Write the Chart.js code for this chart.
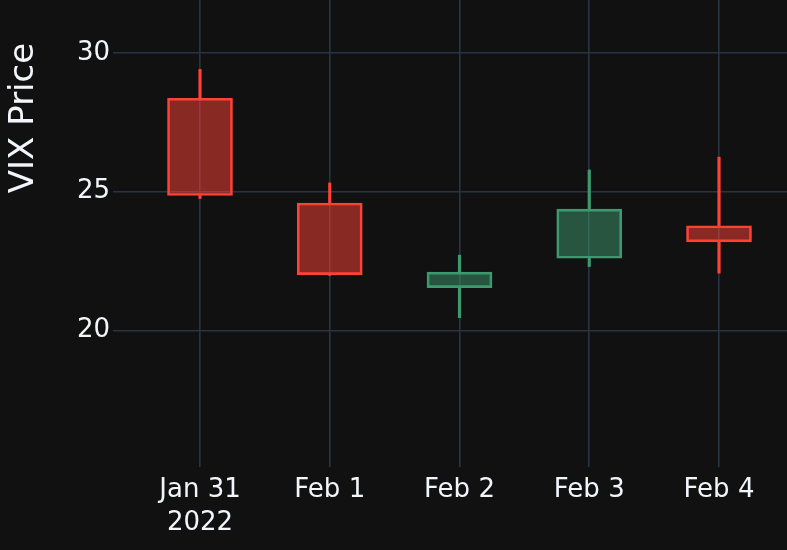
<!DOCTYPE html>
<html>
<head>
<meta charset="utf-8">
<script src="https://cdn.jsdelivr.net/npm/chart.js@4"></script>
<style>
html,body{margin:0;padding:0;background:#111111;}
canvas{display:block;background:#111111;}
</style>
</head>
<body>
<canvas id="c" width="787" height="550"></canvas>
<script>
const dates = ['2022-01-31','2022-02-01','2022-02-02','2022-02-03','2022-02-04'];
const tickLabels = [['Jan 31','2022'],'Feb 1','Feb 2','Feb 3','Feb 4'];
const openVals  = [28.36, 24.59, 21.54, 22.60, 23.77];
const highVals  = [29.40, 25.31, 22.71, 25.78, 26.24];
const lowVals   = [24.75, 21.98, 20.46, 22.30, 22.06];
const closeVals = [24.86, 22.01, 22.10, 24.37, 23.19];
const yTitle = 'VIX Price';

const UP_LINE = '#3D9970', UP_FILL = 'rgba(61,153,112,0.5)';
const DN_LINE = '#FF4136', DN_FILL = 'rgba(255,65,54,0.5)';
const isUp = dates.map((d,i)=>closeVals[i] >= openVals[i]);
const lineCols = isUp.map(u=>u?UP_LINE:DN_LINE);
const fillCols = isUp.map(u=>u?UP_FILL:DN_FILL);

const body = dates.map((d,i)=>({x:i, y:[openVals[i], closeVals[i]]}));
const upperWick = dates.map((d,i)=>({x:i, y:[Math.max(openVals[i],closeVals[i]), highVals[i]]}));
const lowerWick = dates.map((d,i)=>({x:i, y:[lowVals[i], Math.min(openVals[i],closeVals[i])]}));

const FONT = 'DejaVu Sans';
const TXT = '#f2f5fa';
const GRID = '#283442';

const titlePlugin = {
  id:'ytitle',
  afterDraw(chart){
    const ctx = chart.ctx;
    ctx.save();
    ctx.translate(33, 118);
    ctx.rotate(-Math.PI/2);
    ctx.font = '34px "' + FONT + '"';
    ctx.fillStyle = TXT;
    ctx.textAlign = 'center';
    ctx.textBaseline = 'alphabetic';
    ctx.fillText(yTitle, 0, 0);
    ctx.restore();
  }
};

new Chart(document.getElementById('c'), {
  type:'bar',
  data:{
    datasets:[
      {data:body, backgroundColor:fillCols, borderColor:lineCols, borderWidth:2, borderSkipped:false, barThickness:65, grouped:false},
      {data:upperWick, backgroundColor:lineCols, borderWidth:0, barThickness:2.5, grouped:false},
      {data:lowerWick, backgroundColor:lineCols, borderWidth:0, barThickness:2.5, grouped:false}
    ]
  },
  options:{
    responsive:false,
    animation:false,
    layout:{padding:0},
    plugins:{legend:{display:false}, tooltip:{enabled:false}},
    scales:{
      x:{
        type:'linear',
        min:-0.6705, max:4.524,
        offset:false,
        grid:{color:GRID, lineWidth:1.6, drawTicks:false, offset:false},
        border:{display:false},
        ticks:{
          stepSize:1, includeBounds:false, autoSkip:false, maxRotation:0,
          color:TXT, font:{family:FONT, size:26, lineHeight:1.3}, padding:6,
          callback:(v)=> Number.isInteger(v) && v>=0 && v<tickLabels.length ? tickLabels[v] : ''
        },
        afterFit(s){ s.height = 83; s.paddingLeft=0; s.paddingRight=0; }
      },
      y:{
        type:'linear',
        min:15.08, max:31.9,
        grid:{color:GRID, lineWidth:1.6, drawTicks:false},
        border:{display:false},
        ticks:{stepSize:5, includeBounds:false, color:TXT, font:{family:FONT, size:26}, padding:3},
        afterFit(s){ s.width = 113; s.paddingTop=0; s.paddingBottom=0; }
      }
    }
  },
  plugins:[titlePlugin]
});
</script>
</body>
</html>
